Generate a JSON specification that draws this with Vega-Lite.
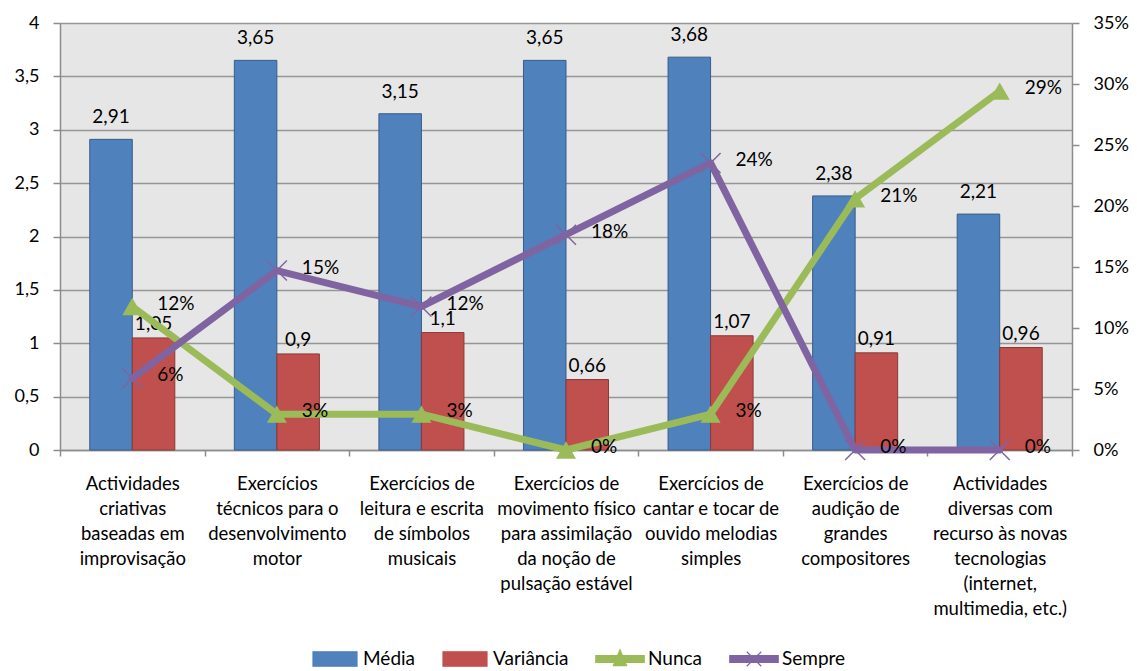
{
  "$schema": "https://vega.github.io/schema/vega-lite/v6.json",
  "width": 1012,
  "height": 427,
  "autosize": {"type": "none"},
  "padding": {"left": 60, "top": 23, "right": 65, "bottom": 221},
  "background": "white",
  "datasets": {
    "barras": [
      {"atividade": "Actividades|criativas|baseadas em|improvisação", "serie": "Média", "valor": 2.91},
      {"atividade": "Actividades|criativas|baseadas em|improvisação", "serie": "Variância", "valor": 1.05},
      {"atividade": "Exercícios|técnicos para o|desenvolvimento|motor", "serie": "Média", "valor": 3.65},
      {"atividade": "Exercícios|técnicos para o|desenvolvimento|motor", "serie": "Variância", "valor": 0.9},
      {"atividade": "Exercícios de|leitura e escrita|de símbolos|musicais", "serie": "Média", "valor": 3.15},
      {"atividade": "Exercícios de|leitura e escrita|de símbolos|musicais", "serie": "Variância", "valor": 1.1},
      {"atividade": "Exercícios de|movimento físico|para assimilação|da noção de|pulsação estável", "serie": "Média", "valor": 3.65},
      {"atividade": "Exercícios de|movimento físico|para assimilação|da noção de|pulsação estável", "serie": "Variância", "valor": 0.66},
      {"atividade": "Exercícios de|cantar e tocar  de|ouvido melodias|simples", "serie": "Média", "valor": 3.68},
      {"atividade": "Exercícios de|cantar e tocar  de|ouvido melodias|simples", "serie": "Variância", "valor": 1.07},
      {"atividade": "Exercícios de|audição de|grandes|compositores", "serie": "Média", "valor": 2.38},
      {"atividade": "Exercícios de|audição de|grandes|compositores", "serie": "Variância", "valor": 0.91},
      {"atividade": "Actividades|diversas com|recurso às novas|tecnologias|(internet,|multimedia, etc.)", "serie": "Média", "valor": 2.21},
      {"atividade": "Actividades|diversas com|recurso às novas|tecnologias|(internet,|multimedia, etc.)", "serie": "Variância", "valor": 0.96}
    ],
    "linhas": [
      {"atividade": "Actividades|criativas|baseadas em|improvisação", "serie": "Nunca", "valor": 0.1176},
      {"atividade": "Exercícios|técnicos para o|desenvolvimento|motor", "serie": "Nunca", "valor": 0.0294},
      {"atividade": "Exercícios de|leitura e escrita|de símbolos|musicais", "serie": "Nunca", "valor": 0.0294},
      {"atividade": "Exercícios de|movimento físico|para assimilação|da noção de|pulsação estável", "serie": "Nunca", "valor": 0},
      {"atividade": "Exercícios de|cantar e tocar  de|ouvido melodias|simples", "serie": "Nunca", "valor": 0.0294},
      {"atividade": "Exercícios de|audição de|grandes|compositores", "serie": "Nunca", "valor": 0.2059},
      {"atividade": "Actividades|diversas com|recurso às novas|tecnologias|(internet,|multimedia, etc.)", "serie": "Nunca", "valor": 0.2941},
      {"atividade": "Actividades|criativas|baseadas em|improvisação", "serie": "Sempre", "valor": 0.0588},
      {"atividade": "Exercícios|técnicos para o|desenvolvimento|motor", "serie": "Sempre", "valor": 0.1471},
      {"atividade": "Exercícios de|leitura e escrita|de símbolos|musicais", "serie": "Sempre", "valor": 0.1176},
      {"atividade": "Exercícios de|movimento físico|para assimilação|da noção de|pulsação estável", "serie": "Sempre", "valor": 0.1765},
      {"atividade": "Exercícios de|cantar e tocar  de|ouvido melodias|simples", "serie": "Sempre", "valor": 0.2353},
      {"atividade": "Exercícios de|audição de|grandes|compositores", "serie": "Sempre", "valor": 0},
      {"atividade": "Actividades|diversas com|recurso às novas|tecnologias|(internet,|multimedia, etc.)", "serie": "Sempre", "valor": 0}
    ]
  },
  "encoding": {
    "x": {
      "field": "atividade",
      "type": "nominal",
      "sort": [
        "Actividades|criativas|baseadas em|improvisação",
        "Exercícios|técnicos para o|desenvolvimento|motor",
        "Exercícios de|leitura e escrita|de símbolos|musicais",
        "Exercícios de|movimento físico|para assimilação|da noção de|pulsação estável",
        "Exercícios de|cantar e tocar  de|ouvido melodias|simples",
        "Exercícios de|audição de|grandes|compositores",
        "Actividades|diversas com|recurso às novas|tecnologias|(internet,|multimedia, etc.)"
      ],
      "scale": {"paddingInner": 0, "paddingOuter": 0},
      "axis": {
        "title": null,
        "labelAngle": 0,
        "labelExpr": "split(datum.label, '|')",
        "labelFontSize": 18.5,
        "labelLineHeight": 25,
        "labelColor": "#000000",
        "labelPadding": 18,
        "labelLimit": 0,
        "labelBaseline": "top",
        "tickBand": "extent",
        "tickSize": 6,
        "tickColor": "#8c8c8c",
        "tickWidth": 1.5,
        "domainColor": "#8c8c8c",
        "domainWidth": 1.5,
        "grid": false
      }
    }
  },
  "layer": [
    {
      "data": {"name": "barras"},
      "encoding": {
        "y": {
          "field": "valor",
          "type": "quantitative",
          "scale": {"domain": [0, 4], "nice": false},
          "axis": {
            "title": null,
            "values": [0, 0.5, 1, 1.5, 2, 2.5, 3, 3.5, 4],
            "format": "~g",
            "labelFontSize": 18,
            "labelColor": "#000000",
            "labelPadding": 14,
            "tickSize": 7,
            "tickColor": "#8c8c8c",
            "tickWidth": 1.5,
            "domainColor": "#8c8c8c",
            "domainWidth": 1.5,
            "grid": true,
            "gridColor": "#969696",
            "gridWidth": 1.5
          }
        },
        "xOffset": {
          "field": "serie",
          "sort": ["Média", "Variância"],
          "scale": {"paddingInner": 0, "paddingOuter": 0.7}
        }
      },
      "layer": [
        {
          "mark": {"type": "bar", "strokeWidth": 1},
          "encoding": {
            "color": {
              "field": "serie",
              "type": "nominal",
              "scale": {
                "domain": ["Média", "Variância", "Nunca", "Sempre"],
                "range": ["#4F81BD", "#C0504D", "#9BBB59", "#8064A2"]
              },
              "legend": {
                "orient": "none",
                "legendX": 252,
                "legendY": 613,
                "direction": "horizontal",
                "title": null,
                "symbolSize": 1936,
                "symbolStrokeWidth": 1.2,
                "labelFontSize": 19,
                "labelColor": "#000000",
                "labelOffset": 5,
                "columnPadding": 24,
                "encode": {
                  "symbols": {
                    "update": {
                      "shape": {"signal": "datum.value === 'Nunca' ? 'M-1.1,-0.16H1.1V0.16H-1.1Z M-0.3,0.3L0,-0.42L0.3,0.3Z' : datum.value === 'Sempre' ? 'M-1.1,-0.16H1.1V0.16H-1.1Z M-0.33,-0.33L0.33,0.33 M-0.33,0.33L0.33,-0.33' : 'M-1,-0.33H1V0.33H-1Z'"},
                      "fill": {"signal": "datum.value === 'Média' ? '#4F81BD' : datum.value === 'Variância' ? '#C0504D' : datum.value === 'Nunca' ? '#9BBB59' : '#8064A2'"},
                      "stroke": {"signal": "datum.value === 'Média' ? '#385D8A' : datum.value === 'Variância' ? '#8C3836' : datum.value === 'Nunca' ? '#9BBB59' : '#8064A2'"},
                      "opacity": {"value": 1},
                      "fillOpacity": {"value": 1},
                      "strokeOpacity": {"value": 1}
                    }
                  }
                }
              }
            },
            "stroke": {
              "field": "serie",
              "type": "nominal",
              "scale": {"domain": ["Média", "Variância"], "range": ["#385D8A", "#8C3836"]},
              "legend": null
            }
          }
        },
        {
          "transform": [{"filter": "datum.serie === 'Média'"}],
          "mark": {"type": "text", "fontSize": 19, "color": "#000000", "baseline": "alphabetic", "dy": -16},
          "encoding": {
            "text": {"field": "valor", "type": "quantitative", "format": "~g"}
          }
        },
        {
          "transform": [{"filter": "datum.serie === 'Variância'"}],
          "mark": {"type": "text", "fontSize": 19, "color": "#000000", "baseline": "alphabetic", "dy": -8},
          "encoding": {
            "text": {"field": "valor", "type": "quantitative", "format": "~g"}
          }
        }
      ]
    },
    {
      "data": {"name": "linhas"},
      "encoding": {
        "y": {
          "field": "valor",
          "type": "quantitative",
          "scale": {"domain": [0, 0.35], "nice": false},
          "axis": {
            "title": null,
            "orient": "right",
            "values": [0, 0.05, 0.1, 0.15, 0.2, 0.25, 0.3, 0.35],
            "format": ".0%",
            "labelFontSize": 18,
            "labelColor": "#000000",
            "labelPadding": 14,
            "tickSize": 7,
            "tickColor": "#8c8c8c",
            "tickWidth": 1.5,
            "domainColor": "#8c8c8c",
            "domainWidth": 1.5,
            "grid": false
          }
        }
      },
      "layer": [
        {
          "transform": [{"filter": "datum.serie === 'Nunca'"}],
          "mark": {"type": "line", "strokeWidth": 7, "strokeCap": "round", "strokeJoin": "round"},
          "encoding": {
            "color": {"field": "serie", "type": "nominal"},
            "order": {"value": null}
          }
        },
        {
          "transform": [{"filter": "datum.serie === 'Sempre'"}],
          "mark": {"type": "line", "strokeWidth": 7, "strokeCap": "round", "strokeJoin": "round"},
          "encoding": {
            "color": {"field": "serie", "type": "nominal"},
            "order": {"value": null}
          }
        },
        {
          "transform": [{"filter": "datum.serie === 'Nunca'"}],
          "mark": {"type": "point", "shape": "triangle-up", "filled": true, "size": 400, "opacity": 1, "color": "#9BBB59"},
          "encoding": {}
        },
        {
          "transform": [{"filter": "datum.serie === 'Sempre'"}],
          "mark": {"type": "point", "shape": "M-1,-1L1,1M-1,1L1,-1", "filled": false, "size": 400, "opacity": 1, "strokeWidth": 1.5, "color": "#8064A2"},
          "encoding": {}
        },
        {
          "mark": {"type": "text", "fontSize": 19, "color": "#000000", "align": "left", "baseline": "middle", "dx": 25, "dy": -3},
          "encoding": {
            "text": {"field": "valor", "type": "quantitative", "format": ".0%"}
          }
        }
      ]
    }
  ],
  "resolve": {"scale": {"y": "independent"}, "axis": {"y": "independent"}},
  "config": {
    "locale": {
      "number": {"decimal": ",", "thousands": ".", "grouping": [3], "currency": ["", " €"]}
    },
    "font": "Lato",
    "view": {"fill": "#E6E6E6", "stroke": null}
  }
}
